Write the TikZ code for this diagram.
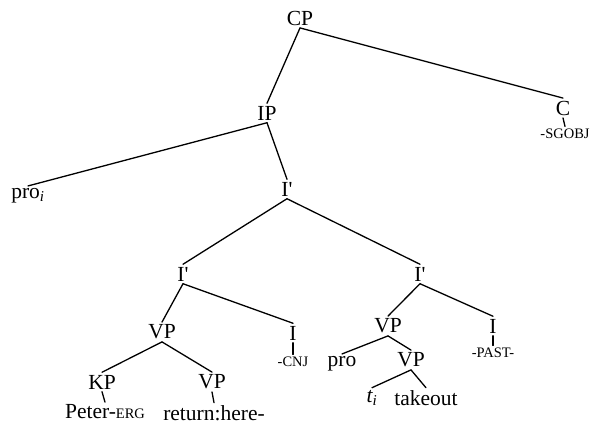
\documentclass[tikz,border=0pt]{standalone}
\usepackage{fontspec}
\setmainfont{Liberation Serif}
\usetikzlibrary{positioning}
\def\gap{2.5pt}
\tikzset{cat/.style={inner sep=\gap, font=\fontsize{21.5}{23}\selectfont},
  morph/.style={inner sep=\gap, font=\fontsize{14.5}{16}\selectfont},
  branch/.style={line width=1.3pt, line cap=round}}

\begin{document}
\begin{tikzpicture}[x=1pt,y=-1pt]
  \useasboundingbox (0,0) rectangle (594,425);
  % Labels
  \node[cat] (cp) at (300,18) {CP};
  \node[cat] (ip) at (267,113) {IP};
  \node[cat] (c) at (563,108) {C};
  \node[morph] (sgobj) at (565,134) {-SGOBJ};
  \node[cat] (pro) at (28,196) {pro\textsubscript{\itshape i}};
  \node[cat] (ibar) at (287,189) {I\textquotesingle};
  \node[cat] (ibarl) at (183,274) {I\textquotesingle};
  \node[cat] (ibarr) at (420,274) {I\textquotesingle};
  \node[cat] (vpl) at (162,332) {VP};
  \node[cat] (il) at (293,333) {I};
  \node[morph] (cnj) at (293,362) {-CNJ};
  \node[cat] (kp) at (102,382) {KP};
  \node[cat] (vpret) at (212,382) {VP};
  \node[cat] (peter) at (105,412) {Peter-{\fontsize{14.5}{16}\selectfont ERG}};
  \node[cat] (ret) at (214,413) {return:here-};
  \node[cat] (vpr) at (388,326) {VP};
  \node[cat] (ir) at (493,326) {I};
  \node[morph] (past) at (493,353) {-PAST-};
  \node[cat] (pro2) at (342,364) {pro};
  \node[cat] (vpt) at (411,360) {VP};
  \node[cat] (ti) at (372,398) {{\itshape t}\textsubscript{\itshape i}};
  \node[cat] (tk) at (426,398) {takeout};

  % Branches
  \foreach \m/\d in {cp/ip, cp/c, ip/pro, ip/ibar, ibar/ibarl, ibar/ibarr,
      ibarl/vpl, ibarl/il, vpl/kp, vpl/vpret, ibarr/vpr, ibarr/ir,
      vpr/pro2, vpr/vpt, vpt/ti, vpt/tk}
    \draw[branch] (\m.south) -- (\d.north);
  \foreach \m/\d in {c/sgobj, il/cnj, ir/past, kp/peter, vpret/ret}
    \draw[branch] (\m.south) -- (\d.north);
\end{tikzpicture}
\end{document}
